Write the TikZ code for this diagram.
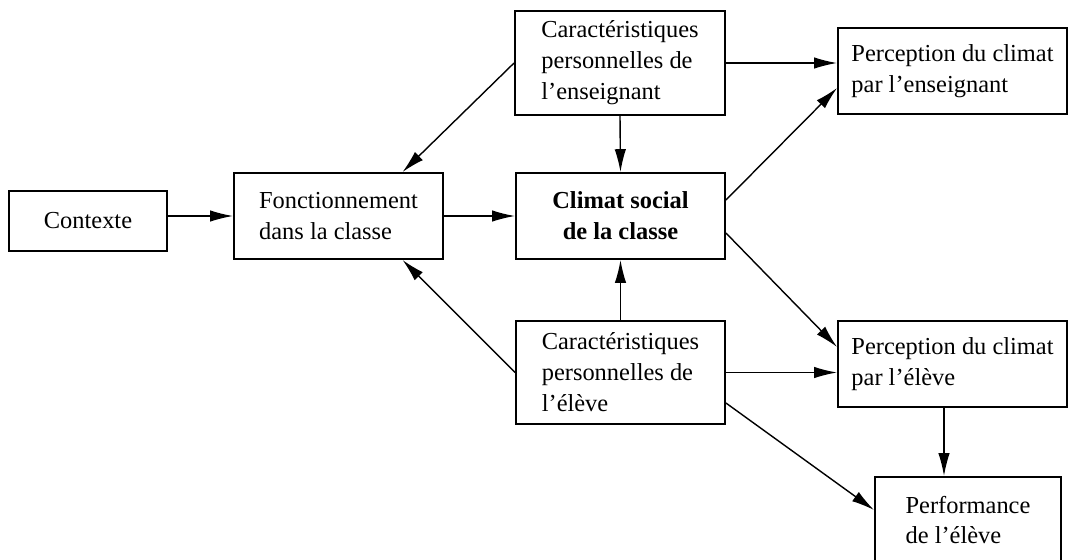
\documentclass[tikz,border=0pt]{standalone}
\usepackage{fontspec}
\setmainfont{Liberation Serif}
\usetikzlibrary{calc}
\usetikzlibrary{arrows.meta}

\begin{document}
\begin{tikzpicture}[x=0.02cm,y=-0.02cm,
        boite/.style={draw,line width=1.1pt,inner sep=0pt,align=left,
            font=\fontsize{13.9}{17.6}\selectfont},
        fleche/.style={->,line width=0.8pt},
        >={Latex[length=13pt,width=6.5pt]}]

        \useasboundingbox (0,0) rectangle (1069,559);

        \node[boite,align=center,minimum width=3.16cm,minimum height=1.2cm] (ctx) at (88,221) {Contexte};
        \node[boite,minimum width=4.18cm,minimum height=1.72cm] (fonc) at (338.5,216) {Fonctionnement\\dans la classe};
        \node[boite,align=center,minimum width=4.18cm,minimum height=1.72cm,font=\fontsize{13.9}{17.6}\selectfont\bfseries] (clim) at (620.5,216) {Climat social\\de la classe};
        \node[boite,minimum width=4.2cm,minimum height=2.08cm] (ens) at (620,63) {Caractéristiques\\personnelles de\\l’enseignant};
        \node[boite,minimum width=4.18cm,minimum height=2.06cm] (eleve) at (620.5,372.5) {Caractéristiques\\personnelles de\\l’élève};
        \node[boite,minimum width=4.58cm,minimum height=1.72cm] (percE) at (952.5,71) {Perception du climat\\par l’enseignant};
        \node[boite,minimum width=4.58cm,minimum height=1.72cm] (percL) at (952.5,364) {Perception du climat\\par l’élève};
        \node[boite,minimum width=3.72cm,minimum height=1.72cm] (perf) at (968,520) {Performance\\de l’élève};

        \draw[fleche] (ctx.east |- fonc.west) -- (fonc.west);
        \draw[fleche] (fonc.east) -- (clim.west);
        \draw[fleche] (ens.south) -- (clim.north);
        \draw[fleche] (eleve.north) -- (clim.south);
        \draw[fleche] (ens.west) -- ($(fonc.north)+(64,0)$);
        \draw[fleche] (eleve.west) -- ($(fonc.south)+(64,0)$);
        \draw[fleche] (ens.east) -- (ens.east -| percE.west);
        \draw[fleche] (eleve.east) -- (eleve.east -| percL.west);
        \draw[fleche] ($(clim.east)+(0,-16)$) -- ($(percE.west)+(0,17)$);
        \draw[fleche] ($(clim.east)+(0,17)$) -- ($(percL.west)+(0,-17)$);
        \draw[fleche] ($(percL.south)+(-8.5,0)$) coordinate (p) -- (p |- perf.north);
        \draw[fleche] ($(eleve.east)+(0,30.5)$) -- ($(perf.west)+(0,-10)$);
    \end{tikzpicture}
\end{document}
